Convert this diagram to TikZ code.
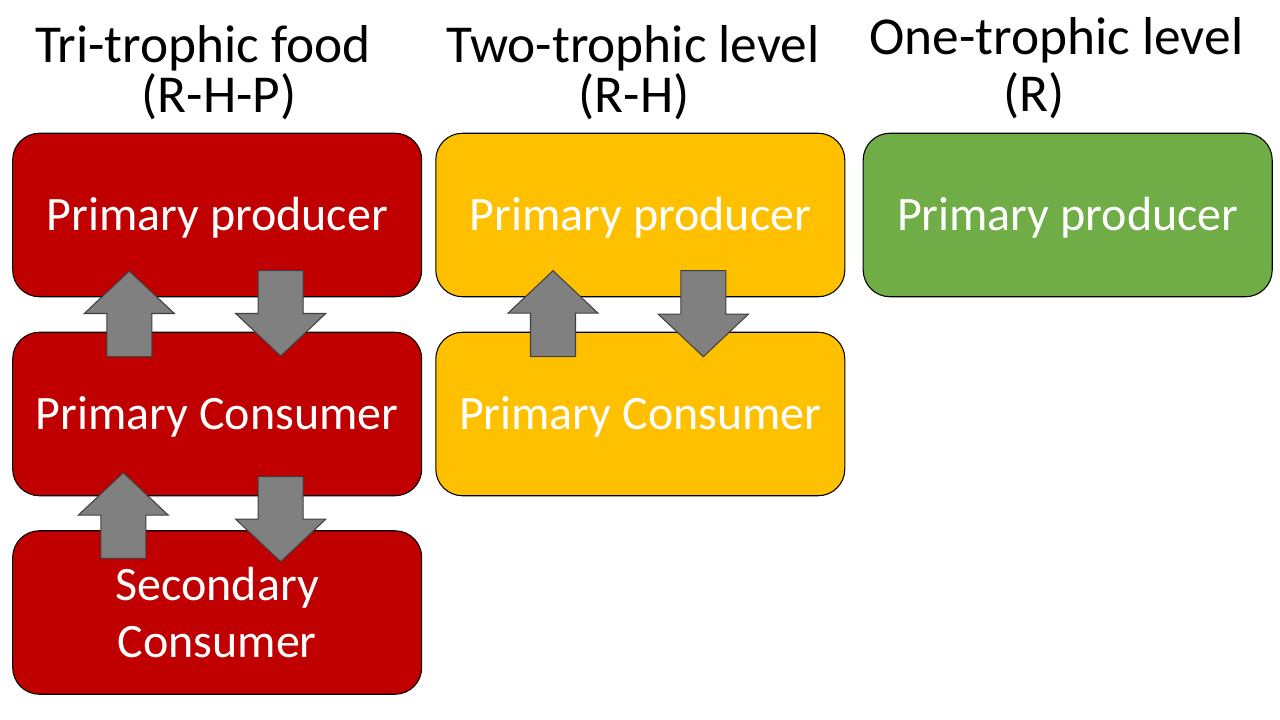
\documentclass[tikz,border=0pt]{standalone}
\usepackage{fontspec}
\setmainfont{Carlito}
\definecolor{boxred}{HTML}{C00000}
\definecolor{boxyellow}{HTML}{FFC000}
\definecolor{boxgreen}{HTML}{70AD47}
\definecolor{arrgray}{HTML}{808080}
\definecolor{arredge}{HTML}{404040}
\newcommand{\UpBlock}[3]{%
  \draw[blockarrow] ({#1},{#2}) -- ({#1+45},{#2+42.5}) -- ({#1+22.5},{#2+42.5}) -- ({#1+22.5},{#3})
    -- ({#1-22.5},{#3}) -- ({#1-22.5},{#2+42.5}) -- ({#1-45},{#2+42.5}) -- cycle;}
\newcommand{\DownBlock}[3]{%
  \draw[blockarrow] ({#1},{#3}) -- ({#1+45},{#3-42.5}) -- ({#1+22.5},{#3-42.5}) -- ({#1+22.5},{#2})
    -- ({#1-22.5},{#2}) -- ({#1-22.5},{#3-42.5}) -- ({#1-45},{#3-42.5}) -- cycle;}
\begin{document}
\begin{tikzpicture}[x=0.75pt,y=-0.75pt,
  trophbox/.style={draw=black, line width=0.8pt, rounded corners=20pt, minimum width=306.75pt,
     minimum height=122.6pt, inner sep=0pt, text=white, align=center,
     font=\fontsize{36}{43.2}\selectfont},
  oneline/.style={text height=24pt, text depth=1.5pt},
  titletext/.style={anchor=base, inner sep=0pt, text=black, font=\fontsize{40}{48}\selectfont},
  blockarrow/.style={fill=arrgray, draw=arredge, line width=0.8pt, line join=miter}]
\useasboundingbox (0,0) rectangle (1280,720);
% titles
\node[titletext] (t1a) at (203,63) {Tri-trophic food};
\node[titletext] (t1b) at (219,113) {(R-H-P)};
\node[titletext] (t2a) at (633,63) {Two-trophic level};
\node[titletext] (t2b) at (634,113) {(R-H)};
\node[titletext] (t3a) at (1056.5,55) {One-trophic level};
\node[titletext] (t3b) at (1034,112) {(R)};
% boxes
\node[trophbox, oneline, fill=boxred] (r1) at (217.2,215) {Primary producer};
\node[trophbox, oneline, fill=boxred] (r2) at (217.2,414) {Primary Consumer};
\node[trophbox, fill=boxred] (r3) at (217.2,612.5) {Secondary\\Consumer};
\node[trophbox, oneline, fill=boxyellow] (y1) at (640.3,215) {Primary producer};
\node[trophbox, oneline, fill=boxyellow] (y2) at (640.3,414) {Primary Consumer};
\node[trophbox, oneline, fill=boxgreen] (g1) at (1067.7,215) {Primary producer};
% block arrows
\UpBlock{129.3}{271}{356.7}
\DownBlock{280.7}{270.7}{356}
\UpBlock{123.3}{472.7}{558.3}
\DownBlock{280.7}{476.7}{561.7}
\UpBlock{553}{270.7}{356.7}
\DownBlock{703.3}{270.7}{356.7}
\end{tikzpicture}
\end{document}
